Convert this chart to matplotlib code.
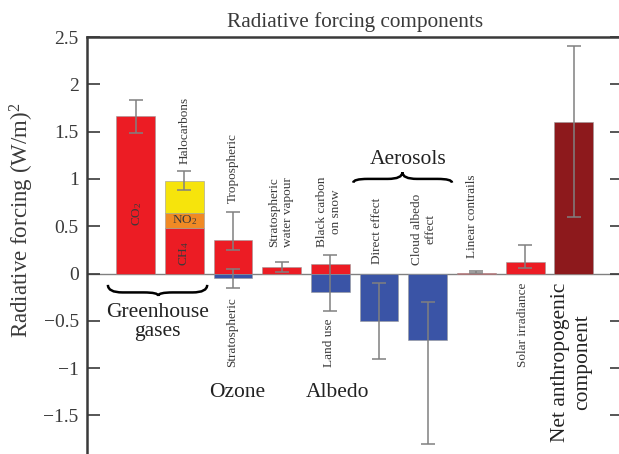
import numpy as np
import matplotlib
matplotlib.use("Agg")
import matplotlib.pyplot as plt
from matplotlib.path import Path
from matplotlib.patches import PathPatch

# fonts
plt.rcParams["font.family"] = ["Liberation Serif", "DejaVu Serif"]
plt.rcParams["mathtext.fontset"] = "custom"
plt.rcParams["mathtext.rm"] = "Liberation Serif"
plt.rcParams["mathtext.it"] = "Liberation Serif:italic"

# forcing components (W/m2)
co2 = 1.66
ch4 = 0.48
n2o = 0.16
halocarbons = 0.34
ozone_trop = 0.35
ozone_strat = -0.05
strat_water = 0.07
black_carbon = 0.10
land_use = -0.20
aerosol_direct = -0.50
cloud_albedo = -0.70
contrails = 0.01
solar = 0.12
net_anthro = 1.60

# bar slots
x_co2, x_ghg, x_ozone, x_water, x_albedo = 1, 2, 3, 4, 5
x_direct, x_cloud, x_contrails, x_solar, x_net = 6, 7, 8, 9, 10

# uncertainty ranges (low, high)
err_x = [1, 2, 3, 3, 4, 5, 6, 7, 8, 9, 10]
err_lo = [1.49, 0.88, 0.25, -0.15, 0.02, -0.40, -0.90, -1.80, 0.003, 0.06, 0.60]
err_hi = [1.83, 1.08, 0.65, 0.05, 0.12, 0.20, -0.10, -0.30, 0.03, 0.30, 2.40]

RED = "#ec1c24"
BLUE = "#3a54a6"
ORANGE = "#f08a24"
YELLOW = "#f6e40c"
DARKRED = "#8d191c"
GREY = "#808080"
INK = "#3a3a3a"

fig = plt.figure(figsize=(6.19, 4.54), dpi=100)
ax = fig.add_axes([0.1405, -0.0192, 0.865, 0.9377])

w = 0.8
ek = dict(width=w, edgecolor="#9a9a9a", linewidth=0.4, zorder=2)
ax.bar(x_co2, co2, color=RED, **ek)
ax.bar(x_ghg, ch4, color=RED, **ek)
ax.bar(x_ghg, n2o, bottom=ch4, color=ORANGE, **ek)
ax.bar(x_ghg, halocarbons, bottom=ch4 + n2o, color=YELLOW, **ek)
ax.bar(x_ozone, ozone_trop, color=RED, **ek)
ax.bar(x_ozone, ozone_strat, color=BLUE, **ek)
ax.bar(x_water, strat_water, color=RED, **ek)
ax.bar(x_albedo, black_carbon, color=RED, **ek)
ax.bar(x_albedo, land_use, color=BLUE, **ek)
ax.bar(x_direct, aerosol_direct, color=BLUE, **ek)
ax.bar(x_cloud, cloud_albedo, color=BLUE, **ek)
ax.bar(x_contrails, contrails, color=RED, **ek)
ax.bar(x_solar, solar, color=RED, **ek)
ax.bar(x_net, net_anthro, color=DARKRED, **ek)

ax.axhline(0, color=GREY, lw=1.0, zorder=1)

lo = np.array(err_lo)
hi = np.array(err_hi)
mid = (lo + hi) / 2
ax.errorbar(err_x, mid, yerr=(hi - lo) / 2, fmt="none", ecolor=GREY,
            elinewidth=1.1, capsize=5, capthick=1.1, zorder=3)

ax.set_xlim(0, 11)
ax.set_ylim(-2.0, 2.5)
ax.set_xticks([])
ax.set_yticks([-2, -1.5, -1, -0.5, 0, 0.5, 1, 1.5, 2, 2.5])
ax.set_yticklabels(["", "\u22121.5", "\u22121", "\u22120.5", "0", "0.5", "1", "1.5", "2", "2.5"])
ax.tick_params(axis="y", direction="in", length=9, width=1.2, color=INK,
               labelsize=14, labelcolor=INK, pad=6, right=True)
for side in ["left", "top"]:
    ax.spines[side].set_color(INK)
    ax.spines[side].set_linewidth(1.8)
ax.spines["bottom"].set_visible(False)
ax.spines["right"].set_visible(False)

ax.set_title("Radiative forcing components", fontsize=15.3, color=INK, pad=7)
ax.set_ylabel("Radiative forcing (W/m)$^{\\mathrm{2}}$", fontsize=16.5, color=INK)
ax.yaxis.set_label_coords(-0.096, 0.57)


def brace(x0, x1, xm, y_arm, y_body, y_tip, r):
    verts = [(x0, y_arm), (x0, y_body), (x0 + r, y_body),
             (xm - r, y_body),
             (xm, y_body), (xm, y_tip),
             (xm, y_body), (xm + r, y_body),
             (x1 - r, y_body),
             (x1, y_body), (x1, y_arm)]
    codes = [Path.MOVETO, Path.CURVE3, Path.CURVE3,
             Path.LINETO,
             Path.CURVE3, Path.CURVE3,
             Path.CURVE3, Path.CURVE3,
             Path.LINETO,
             Path.CURVE3, Path.CURVE3]
    ax.add_patch(PathPatch(Path(verts, codes), fill=False, lw=1.8,
                           edgecolor="black", zorder=4))


brace(0.43, 2.47, 1.465, -0.12, -0.20, -0.235, 0.3)
brace(5.47, 7.50, 6.48, 0.96, 1.0, 1.07, 0.3)

small = dict(rotation=90, fontsize=9.5, color=INK, ha="center", multialignment="center")
ax.text(1.03, 0.63, "CO$_{\\mathrm{2}}$", va="center", **small)
ax.text(2.0, 0.21, "CH$_{\\mathrm{4}}$", va="center", **small)
ax.text(2.0, 0.56, "NO$_{\\mathrm{2}}$", fontsize=9.5, color=INK, ha="center", va="center")
ax.text(2.0, 1.16, "Halocarbons", va="bottom", **small)
ax.text(3.0, 0.745, "Tropospheric", va="bottom", **small)
ax.text(3.98, 0.28, "Stratospheric\nwater vapour", va="bottom", **small)
ax.text(4.98, 0.28, "Black carbon\non snow", va="bottom", **small)
ax.text(5.96, 0.10, "Direct effect", va="bottom", **small)
ax.text(6.92, 0.09, "Cloud albedo\neffect", va="bottom", **small)
ax.text(7.9, 0.16, "Linear contrails", va="bottom", **small)
ax.text(2.98, -0.985, "Stratospheric", va="bottom", **small)
ax.text(4.97, -0.985, "Land use", va="bottom", **small)
ax.text(8.96, -0.985, "Solar irradiance", va="bottom", **small)

big = dict(fontsize=15.5, color="#222222", ha="center", va="center")
ax.text(9.95, -0.935, "Net anthropogenic\ncomponent", rotation=90,
        multialignment="center", linespacing=1.2, fontsize=15.5,
        color="#222222", ha="center", va="center")
ax.text(1.44, -0.51, "Greenhouse\ngases", linespacing=1.0, **big)
ax.text(3.08, -1.26, "Ozone", **big)
ax.text(5.14, -1.26, "Albedo", **big)
ax.text(6.6, 1.21, "Aerosols", **big)

fig.savefig("out.png", dpi=100)
